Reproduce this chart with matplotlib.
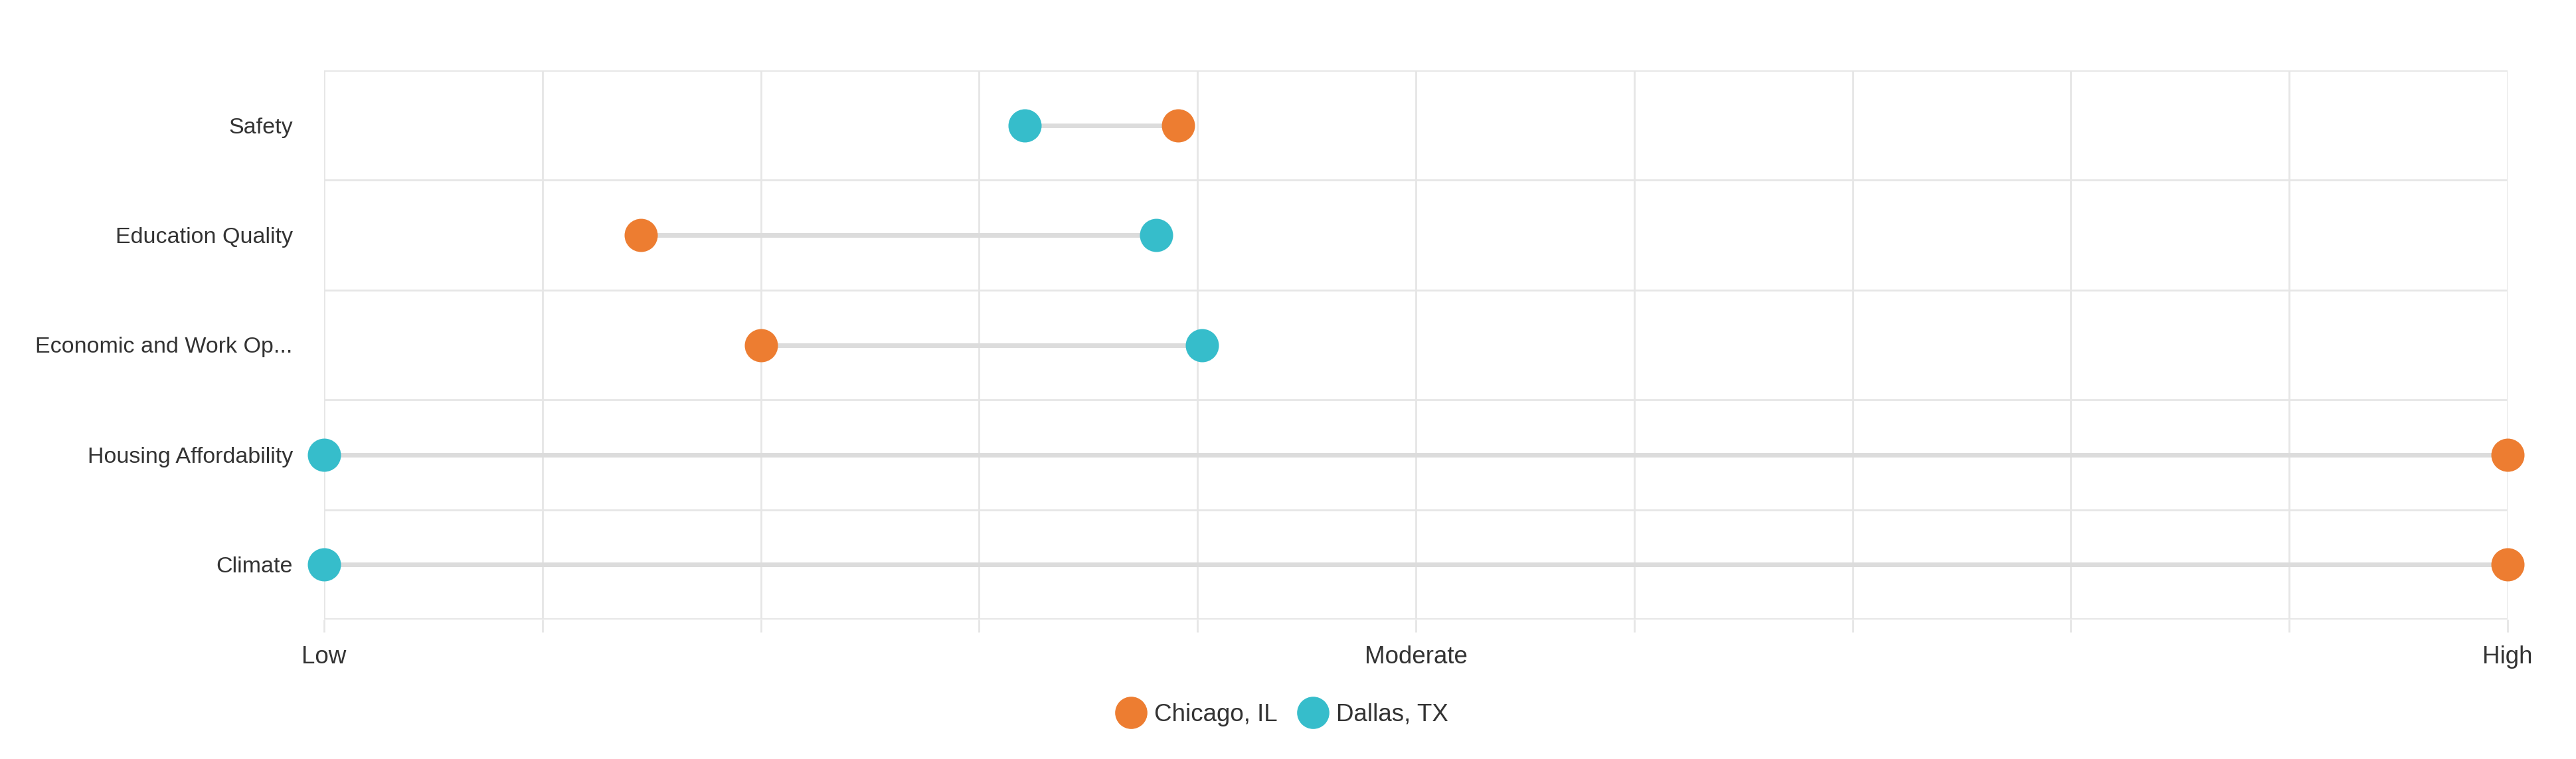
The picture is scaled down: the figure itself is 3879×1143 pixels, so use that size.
import matplotlib
matplotlib.use("Agg")
import matplotlib.pyplot as plt
import numpy as np
from matplotlib.lines import Line2D

plt.rcParams['font.family'] = ['Liberation Sans', 'DejaVu Sans']

categories = ["Safety", "Education Quality", "Economic and Work Op...",
              "Housing Affordability", "Climate"]
chicago = [3.91, 1.45, 2.0, 10.0, 10.0]
dallas = [3.21, 3.81, 4.02, 0.0, 0.0]
series_names = ["Chicago, IL", "Dallas, TX"]
x_tick_values = [0, 5, 10]
x_tick_labels = ["Low", "Moderate", "High"]

c_chi = "#ED7D31"
c_dal = "#36BDCB"
grid_c = "#e6e6e6"
text_c = "#333333"

fig = plt.figure(figsize=(38.79, 11.43), dpi=100)
ax = fig.add_axes([488/3879, 1-933/1143, (3776-488)/3879, (933-106)/1143])

y = np.arange(len(categories))
ax.set_xlim(0, 10)
ax.set_ylim(len(categories)-0.5, -0.5)

# grid
for gx in np.arange(0, 11, 1):
    ax.axvline(gx, color=grid_c, lw=2.0, zorder=0)
for gy in np.arange(-0.5, len(categories), 1):
    ax.axhline(gy, color=grid_c, lw=2.0, zorder=0)
ax.axhline(len(categories)-0.5, color=grid_c, lw=2.8, zorder=0)

for i in range(len(categories)):
    ax.plot([chicago[i], dallas[i]], [y[i], y[i]], color="#dcdcdc", lw=5, zorder=2,
            solid_capstyle='butt')

ax.scatter(chicago, y, s=36**2, color=c_chi, zorder=3, clip_on=False, linewidths=0)
ax.scatter(dallas, y, s=36**2, color=c_dal, zorder=3, clip_on=False, linewidths=0)

for s in ax.spines.values():
    s.set_visible(False)

ax.set_yticks(y)
ax.set_yticklabels(categories, fontsize=24.5, color=text_c)
ax.tick_params(axis='y', length=0, pad=34)

ax.set_xticks(np.arange(0, 11, 1))
labels = []
for v in range(11):
    labels.append(x_tick_labels[x_tick_values.index(v)] if v in x_tick_values else "")
ax.set_xticklabels(labels, fontsize=26.5, color=text_c)
ax.tick_params(axis='x', length=14, width=2.0, color=grid_c, pad=14)

handles = [Line2D([], [], marker='o', linestyle='none', markersize=35, color=c_chi,
                  markeredgewidth=0),
           Line2D([], [], marker='o', linestyle='none', markersize=35, color=c_dal,
                  markeredgewidth=0)]
leg = fig.legend(handles, series_names, loc='center', bbox_to_anchor=(0.4975, 1-1076/1143),
                 ncol=2, frameon=False, fontsize=26.5, handletextpad=0.3,
                 columnspacing=0.8, handlelength=1.3)
for t in leg.get_texts():
    t.set_color(text_c)

fig.savefig("out.png", dpi=100, facecolor="white")
